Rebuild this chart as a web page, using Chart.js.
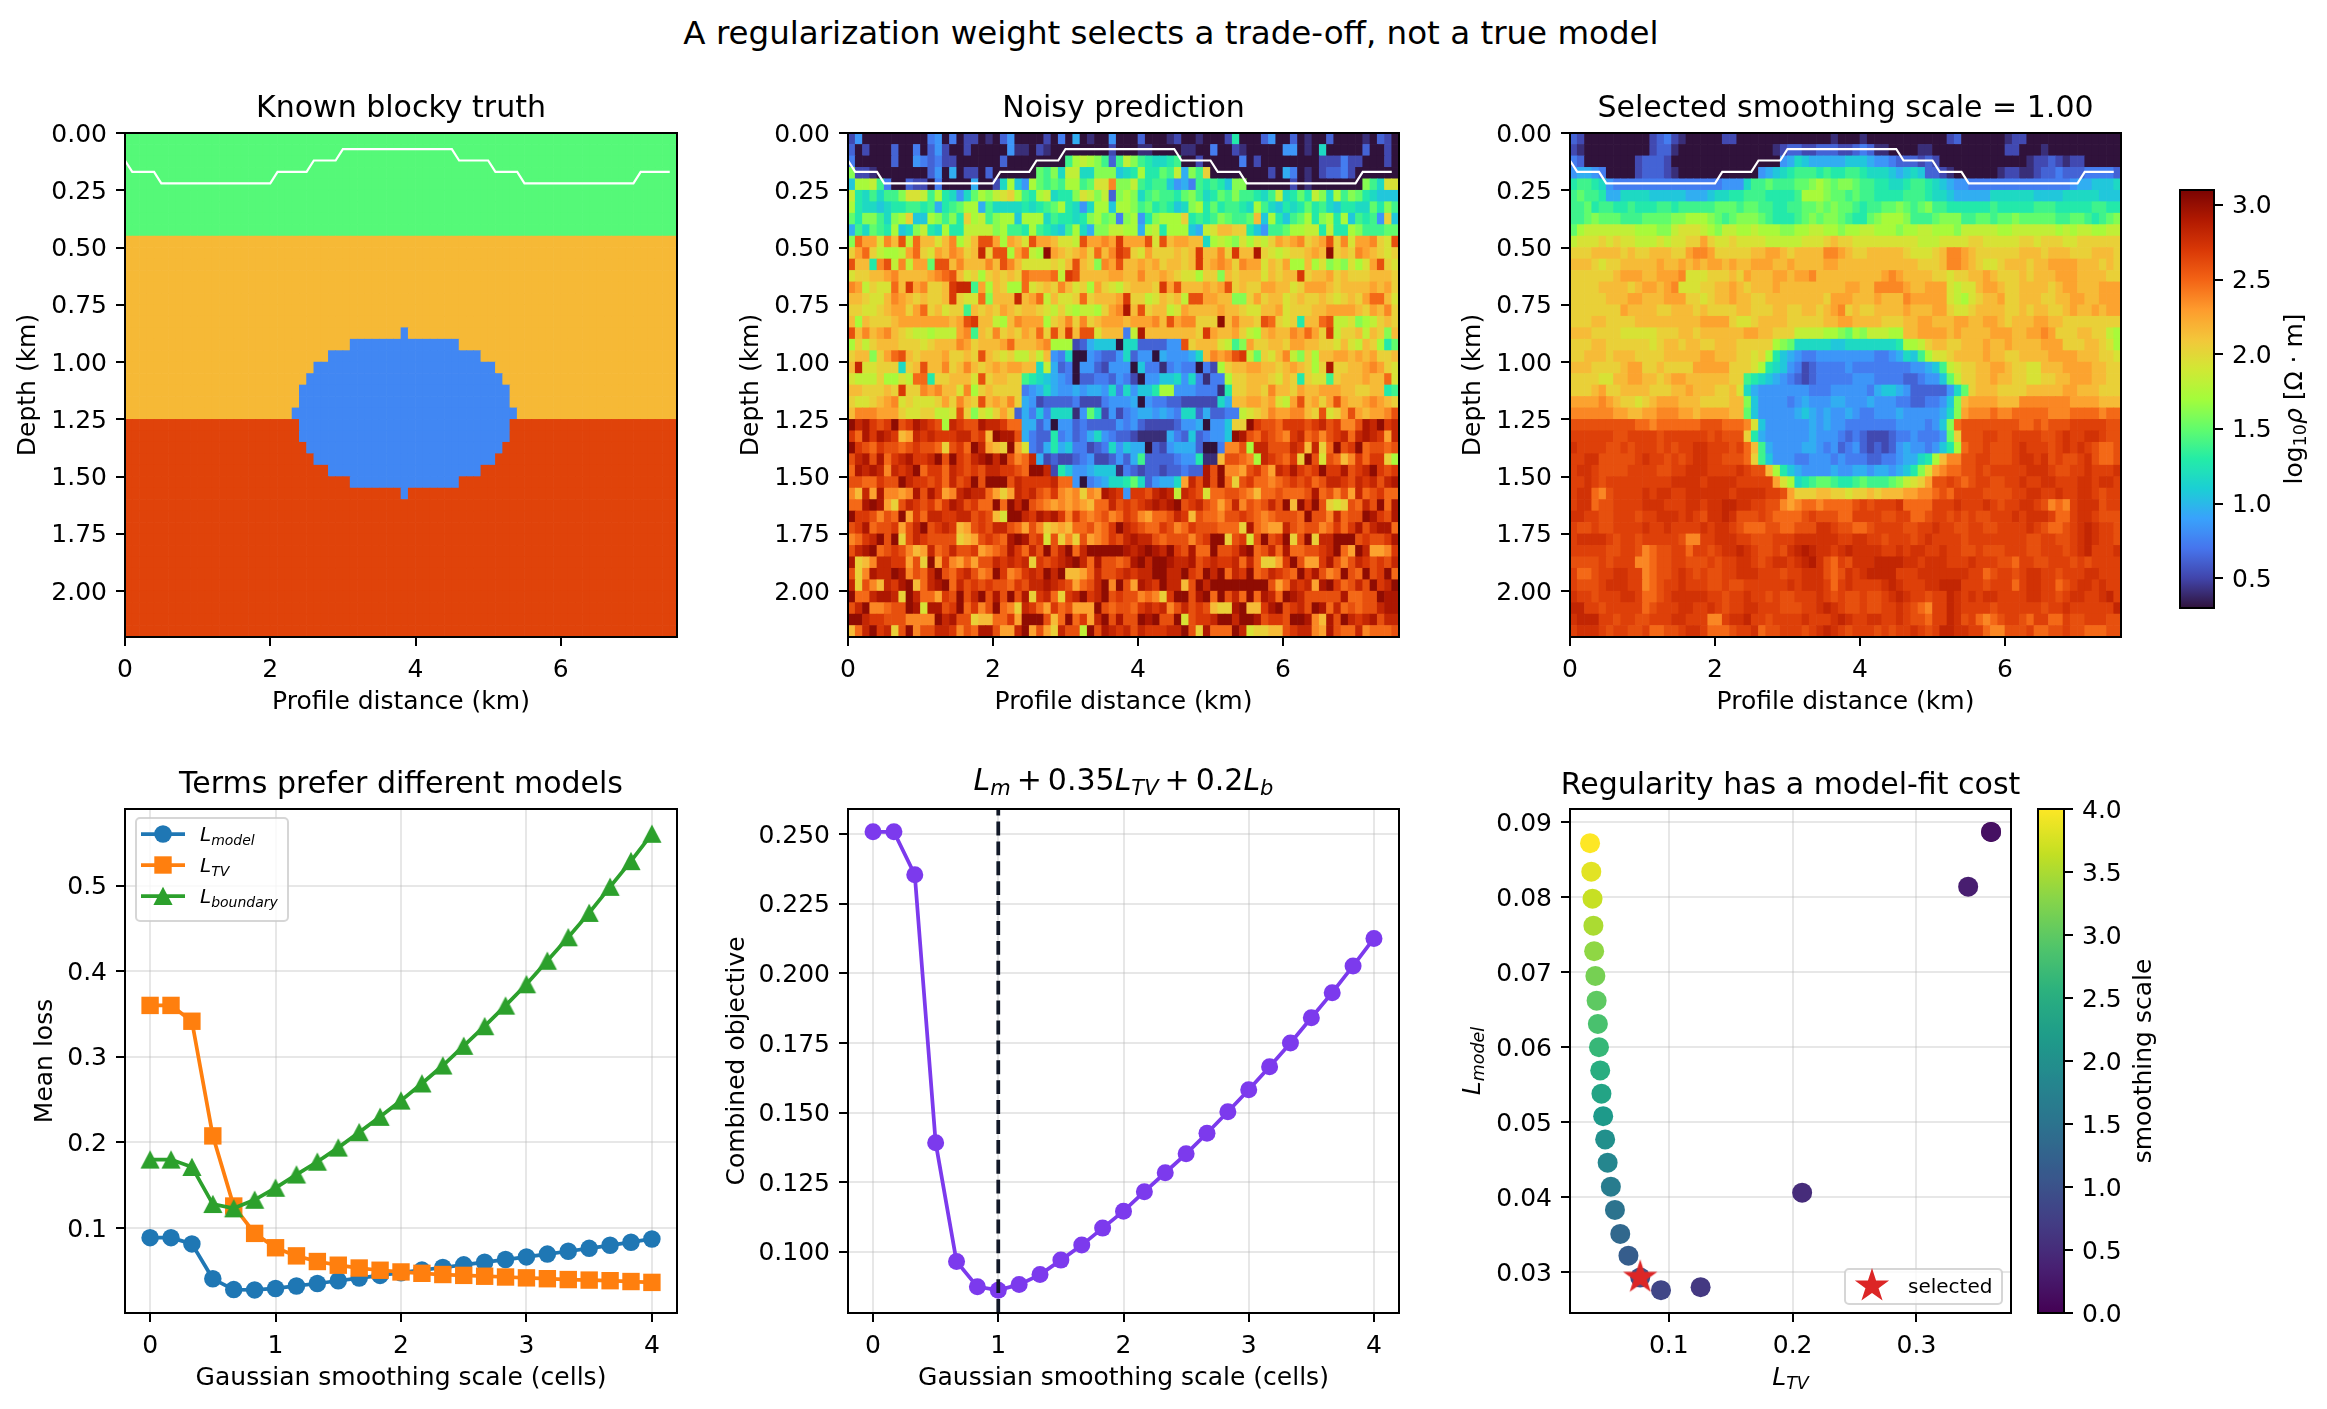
<!DOCTYPE html>
<html><head><meta charset="utf-8"><title>Regularization trade-off</title>
<script src="https://cdn.jsdelivr.net/npm/chart.js@4"></script>
<style>html,body{margin:0;padding:0;background:#fff;width:2327px;height:1409px;overflow:hidden}
canvas{position:absolute}
#sup{position:absolute;left:0;width:2342px;top:14px;text-align:center;font:32.5px "DejaVu Sans";color:#000;line-height:38px}</style>
</head><body><div id="sup">A regularization weight selects a trade-off, not a true model</div>
<script>
// ---- values ----
const sigma=[0,0.1667,0.3333,0.5,0.6667,0.8333,1,1.1667,1.3333,1.5,1.6667,1.8333,2,2.1667,2.3333,2.5,2.6667,2.8333,3,3.1667,3.3333,3.5,3.6667,3.8333,4];
const lossModel=[.0887,.0887,.0814,.0406,.0280,.0276,.0293,.0322,.0351,.0383,.0414,.0446,.0477,.0508,.0538,.0569,.0600,.0631,.0662,.0695,.0728,.0762,.0798,.0834,.0872];
const lossTV=[.3603,.3603,.3418,.2077,.1257,.0937,.0769,.0674,.0608,.0565,.0532,.0506,.0486,.0470,.0456,.0446,.0436,.0427,.0417,.0407,.0397,.0391,.0384,.0374,.0364];
const lossBoundary=[.180,.180,.1714,.128,.123,.133,.147,.1625,.1775,.194,.212,.230,.249,.269,.290,.313,.336,.360,.385,.4125,.440,.4685,.499,.529,.561];
const objective=[.2509,.2509,.2355,.1392,.0965,.0874,.0862,.0882,.0918,.0970,.1024,.1085,.1146,.1216,.1284,.1352,.1426,.1503,.1582,.1665,.1750,.1841,.1931,.2027,.2126];
const selectedScale=1, selectedIndex=6;
const boundaryX=[0,.1,.4,.5,2,2.1,2.5,2.6,2.9,3,4.5,4.6,5,5.1,5.4,5.5,7,7.1,7.5];
const boundaryZ=[.12,.17,.17,.22,.22,.17,.17,.12,.12,.07,.07,.12,.12,.17,.17,.22,.22,.17,.17];
const truthLayerValues=[1.46,2.16,2.65], truthLayerEnds=[9,25,44], truthBlobValue=0.78;
const blobRows =[17,18,19,20,21,22,23,24,25,26,27,28,29,30,31];
const blobFirst=[38,31,28,26,25,24,24,23,24,24,25,26,28,31,38];
const blobLast =[38,45,48,50,51,52,52,53,52,52,51,50,48,45,38];
// one letter per cell: each letter is one level of log10 rho, a = 0.30 upward
const levelStep=0.109, levelBase=0.3, smoothHighStep=0.075;
const noisyRows=[
"cfaaaaaaaa aefaeaccab adfaaaacae agabaafaaa daaabcaaba aacjaaadfa adabaadaaa abadca",
"dacaaadaae adfcaacaaa aafbbacbaa aaaaaacaaa bbaaaabbaa eaacbaaaaa ffabaiaaaa adaaca",
"eaaaaadaaf edeccaaaaa adaaaaaaaa knonmkdkom kjiijkaaca aaaaeacaaa aaaaacccec caaaca",
"mccbaaaaaa adfagaccad aaaaaalkmi ooiimmmhij njjlkogmkq aaaaaaaaca geabacddec aaaaaa",
"hnnokeaadc caeaaaagaa cinhfnlklk nnklpptmmo kjkkhfgekj kjhmmaaaaa acabaaaaaa amkipp",
"ojikikkmpp oknjifilnm opqnkjnoij jmpomodmnm iklkkjlmki jlkmkkjiko ijljominkm ljihhh",
"njiihijjkk jkgjklnngk iiiijijkln jifinnhnnm kljkjhimnj ljkkjinkih jijljkihjj iiljmk",
"ljmmkimnqh hnmkmjqnok mnnhnnnikj jijmnlmemn fjmnnnqjkj kmlkklrhnj hklnjmnjnh kjkfqh",
"gkilkjnhim ojinjjoooo mnkkjnkjih knigmmoonn gnojnnnhgo prrqqjhfkk lnnoojojjn mkkkll",
"mussptrvou rrprtnprvv snsrpvssrp povsstswss svpvrssrri nonmpnpoqs rstqrsvqtp sstqpv",
"qsuqonnosu qpsrtsqrxq vvnsuonzsr qrsqurtwvq psqqqrqrwr rtqwrryqpo pqqrsrzqrq tsrqpq",
"vrrjtvotos slvvrtrrrt rvtrppppqp rvrqmtsvrr srsqrrqrwr stsqtssprq snnrnpmnmp npsvqp",
"pqqrrstrrr rstuvrpqnq rqrqutttuo wvrrrrssrr trrsrqppnq qmrqrrrprq rrwqrrsqrq qqrrrq",
"tsoqppurws tqqrwxxksn rqnnupqrqt rpqnsqpoqr rrqwsvrrrs rsvqrqqssr rpqsssrqrr rrsrsq",
"rrqpprtsrq rqqrwqppum rrrxrsuorp pquqrrrswq qoprqrovvs srrmmqsqrr pqrqqrqpqr qsuurp",
"qqppqrssqs uqrpqqkrqr qsrqrrqpoq onoonqstyr vqrropsrrr rsrrqpprrs pqqqrrssss rqsrtq",
"rnrqqqrsss ssssrsvwrr onrtsssnqr tqtqrsssrs sstrvsttqq qzrtrrqvuq pqjrruvoop mnoqrq",
"vrtrstrqpo onooostkrq tqrqsruqvr wrvvprrreo yrrrrrrrqw srrsqonrsr rtsusqwoqq rorqmr",
"nqoqrrrqqq pqrrrtsqrr rsurrrstnn ncdghhhaii ddddffvqrr rpokmsqqrr qssrrqqprp orqnjl",
"qrrmqsuvrq rrrsqqrqvr qpqooqorfe iaafeddfid ffagfffgir tstvwolqpr tomqnrrssr srsqqr",
"rxppqqqiqr vrrtqrtrqr srssrriogd eaffdcfffa heebefeeae cnqrrssrrq rsrqnqyqqr rstsqp",
"poooqnnpou ujqqrrrpvq rrqqkjihgf eaddeedfec affhhifieb eenqqrrrqp rqjqppkqrr rsrrup",
"rrqqqrqwqq tstrrptnqr qqqqefgigf fgfggfieif hhjnnfffee ebjqqrrqtr rqsrrsssrr qqrrjk",
"qppqrstpqp ppqsqtrqvr srtqgfcddd decccefffg afeeddcccc cigrrssrsp osvrsqsvsr rstsrq",
"rtttsssqpp qqoopvqmpo qsqdgeheii ibflicfcef ggfgfeiidg ddeeopqrts sttrqvpqsv srsstv",
"zxywvwzvwy xwvnxwvvyx xwuuggdfaf fdeddddfef dccccdffga ffhqqzwvvu wwwvwxvwtt vyxzwx",
"wuywyxwrsx wxwwwxxvwr zyyvgeddje fdegifeddc bbbbgedhde ffhzyvuwvu twxuvtvwxu xyxwsx",
"zwvuwvvuvw vvuqvwuzxs rqzspedgjg heecdeifhg gadcfgggda aettvnxxvv vxwrxquzvw zuvvuv",
"vxyvyuwxyw wxzvzwvxyz xzvtuxgcdc cdefccdfdg kddddeffjb brvvutnxwv uwqzvpvurt wuwwqn",
"uyxyxtxwxz uwwuxwvwvx xwwvuzzxcj hffghhhbed cddcddeddy vzttsvwusx wywvwzwwyv wxzwvw",
"vvuuwvvzxw wvwuxvwzvz zzvxwwwwxu ufaefgiijl idfggisxvy vzuqvwuutu vwvwuvxxwv xwxvxy",
"trxsyttsty vywstxyxxu sqsxwxvuwt stqtsyxwfw wvxyxoxwvp uuvvutruuv uuuvyuvtvs xuvwuu",
"uuyzysqvxw vwuwyxvwuu zuzxzvutst stsruuxvwv wxyxyzvwxv usuxtvuvxv zrzwzvqpqv uxvzuy",
"zwwvtvuzsw uxxwwxxvwv rpzzxwyxyw twutuvtuwv tsuuvxwrvu utvvwvutuv vvuzvvtxuv vzywvy",
"vwyuvvwsvx zvwxwrsvwv xxvusvtqrs ruuvtuwzxw vuuwvtuwvv vuuuqyutss xvuvvtuwuw yvxyyu",
"tuwxzvzqvx wvvvvqrsvw vuyzyvwpvq tqvstuwvxy xxvuvvvtvw zzqvwpvzvw zqvzqxxzzz vwvvwy",
"vxyzuvwvtr sxuvxvvwst uvywuxvzvx zuxzzzzzyx yzyxzwvyuu zvvwyzuvxu yuuvvwxzus zxsstw",
"yqrtxxwwsv qzswtsusvv xwxwxqwvwx yzxuyvvuvy zxzzyxxyvw xwwxuxuqqs wzvsswyvtv xwvwvx",
"vqtyxxzytv uxzvuwxvtu zwtuwxwzxz rrsuxvvwxw xxzzxxzwvz xzuxwzuvxw vuzwyvtuzv uzvwzu",
"xqvtrxwyzr uxyzuxvwvw vvuwvxxyxw vsuvxztzvs yxwzxxrvzx zzzzzzzzvs uxwxsyzwuv xvzwxz",
"zuuxyyxqzx uuswvzvxzv yvzvyqwxuq wxzwxzvwvv tutqwzzvyz uzvxuzuyxu zyxvvvvvyu uvvzyy",
"vxzttuvvzy pyyvwzuwtv zutqxwuswu vssszvuvvu wxwxtvxvwv rqqyzrrwyz vwxvzyuxuv uvvxyy",
"zzxwwvvvtt ttzxyvvqrr uuwszzzvru zuwsxzvyvv zyzvvzpvww xzzxzzyvww vzzytryvzx wxyvxx",
"ruxzwxqvzt vvxxwtvuyy vssxzsvsqx vvozvyxwxv xwwwxxzvqy uuuzxpqqrr vwxxtsyvuu xtuuuv"];
const smoothRows=[
"dcaaaaaaaa acdecbaaaa accaaaaaaa aaaaaabaaa baaaaaaaaa aacdaaaaaa bccaaaaaaa aaaaaa",
"cbaaaaaaaa acddbaaaaa aaaaaaaabc ddccdddccd edbbaaaabb aaaaaaaaaa ccaaabaaaa aaaaaa",
"edaaaaaaac dddcaaaaaa aaaaaaaaaf gihggggghh hgffedddcd caaaaaaaaa aaabccdcbc caaaaa",
"fggfeaaaac dddcbaaaaa aaaaaafghi jkkkjkjjkk jiiihghihd dcbaaaaaab ccbbcddedd deeeed",
"jkkjifeeee eeeeeeeeee efffikklkk kllmnmlmml kkjjiijkkj ihgffeeeee eeeeeeeeef gghhhi",
"klkkjggiii ihhhhhgggh iijjkkkjjj jknnnmllkl kkjjjjkkkj iihgggggii iiiihhhhii iiihhh",
"kkljkkjjkj jjkkjkkkkk lllkllkkjj kkllmlmllk jkkllmlklm kkjjjjjjkj jjjjkkkjjj jjkkjj",
"kklmlllkkk llllmmnnnm lklmmmlkjj jklmlmmlkj jlmnnnmkkk lmmmkkllkl lmlllllkkl lkjklm",
"lnooooooon nnmmopppon moonnonnnm mnnoonnmnn oonnnmnnoo nnnmooooon noooooonon oonnoo",
"opppqpqppo oopoppqqsq ppqppppooo oopppqrqqp ppppppppoo oppppqqppp ppqqpqqqpp qqqqqq",
"qqqrrrrqrq qrrrqqstts qqqqqrrssr qrrrrttsrq qrrrrrqppp qrttsrqqqq qqrrrqrrrq qqrrrq",
"rrrqpqqrrr rrsrrsrsrs srsrrsssrr srrrrssrrr rrrrrrrrqq qrttsrqppq rrrqrrssss rrrqrq",
"qqqqqqrsss rrssstpppq qqrqsrrrss rsstrrrrrr rrrstsrrrr qqpqqrrsrq qqrqrrrsss rrrrqq",
"qqqqrrrrqr ssrstpppqq rrsrqrrrsr rrrrrrrrss rrttttsrrs sspopprssr qqrrrrqrss rrrsss",
"qqqqqrrrss rrrsssqqpq rrsrrqqrrr rrrrrqsssr rrsrrrtsss ssponpqrrs qqrrrqqrrs srrsss",
"qqqqqqqsrr rrqqrrrqrq qqqrrqqqrr qqrrqrstqr qqrrrrsrrr ssqppqrrrr qqrqrrqqrs rrsrss",
"qqqrrqqqqr rrrrrrrrss ssqppqrrrr qqqqqrrssr rrrqqqrrss rrrssrrssr qrrrssrrqq qqqqqq",
"rrrqqqqppp ppqqqrrqrr rrrrssrrqq qoooonnmln mooonnrrss ssrsrrrrss srrsstsqqq rrqqon",
"qqqrrqqqqq qpqrrqrrqq rrrqqqqqnm liiiiihhii iiiiijnnoq rrqqrrrsrr srrrrsssqq qrrqpn",
"qqrrrqrrrq qqqrrrrrss rrrqqpqnjh gfeeffffff ffeefgihkn ppqrrrrsrr qqrrrrssss rrrqqp",
"rrrqqqqrss qqrqqqqsss ssqqqpnjih fecdeeeefe eeeeeeeffg hkopqqrrss rqqpprrrss ssrrqq",
"qqqqpprrss rrqrssrrrr rrqqkjihgf edcdeeeeef ffeeeeddef fhloqqrrsr rqqppqqrrs ssrrqq",
"qqqrsqqrrr rqqqrrsrrr qqrpigffff fffeeeffff feghhgfddd ddfilqrrrq qqqrrrrrss rrrqqq",
"sssstsrqqp qrsssrrrqq qqrrmhffff efgfffggff fgfffeedde efhmrssssr rrttttttts sssrrr",
"ttttttssrr sstttssrss ssrrlhffff fghgfgffgf eefffgffff fgimstttut tuuuuutttu uuutuu",
"vvvvvvvvvu utuuuuuuvv vuuutphfff fffgfgffee eeeeeffffe fhmuvvvvvv vvuuvuvvvw wwwwvv",
"wwwwwwvvww wwvwwwwwwv wvvvqjgfff fffgfffede dcccdeefee eflqvvvwwv vwwwwvvwxw wxxwvv",
"xwwwwvvwvw wwvwvwwxxw wwvwurkgff ffggfefdef dcdcdfgffe fhjnuvvwvv vwxwwwvwxw xwvuuv",
"wwxxvvvvvw xwwvwvwxxw wvvvuqkhff feefffefee eddeefggij nrttvvwwvv vwxxwxvwvv wxvuuv",
"wxxwvvvvww wwvvwwxxxw wwwxwvvrnj hgffffgffg gfggfghjmp stuuvvwvww wwwxxxwvvw wxwwwx",
"wwxwvwwwww wwwwxxxxwx xxxwwwwwsp nijkllkjjk lkkklmopqs vvwvuvwwvv wwxwwxxwww xxwxxw",
"wxxutvwwww xwxxwwxxxx xxwxxxxwwv sqqqrrqqpq qrqrrrsstt uvuwwwwvvv vwwxxwwxww xxwvww",
"wxxuvvwwww xxxwwwxxwx xyyxxwwvvt stuutuuuuv wvwwwxuuuu wwwxwwwxwv wwxxwvtutw xxxvww",
"xxwwvvwwwv wwxxxwxwvx xyxvvvwvuu uuvwvvvuuw wwwvvwwuuv wwvwvwvvww wxwxxxwuuw xxwvvv",
"wvvwvvwwww xwwxwwwwxw xxwvuuuvvu uvvvxxwvvu uvwwwwvvww xwwvvwwvvw wwwxwvuuvw xyxwwv",
"wxxxxwvwwv wwwwwvttww xxxwwvvvww wxxxxxxwwx xwwvwwwvwx wwwwvwwwww wwwvvwwvvw xyxwwv",
"wwwwwvvwwv tuvvwwuwwv wxxyxwvvwv xyzyxxwxyx xxxwwxwxxw wxwwvvwvvv wwwvvwwwvw xywwwx",
"vvvvwvwwwt tuvvwwvvvw vwwxxwvwxx wxyzxvuwvx xxyyyyxxwx xxwwwxwwwv vuwwvvwwwv wvwwww",
"wuuvwwxxww tuvvwxwvwv vwwxxxwwwv wwxxxvuvxw xyyyywwwxx xxxxxwwuvw wvwxxwwvww wxxwww",
"wvvvwxxxww tuvwwxwwwv vwvvwwwwww xwxxxwuwxw wwwxyxwwwx xyyywwwvww wuwxxwwuvw xxwxww",
"xwwvwwwxxw uuvwxxxxxw wvwwxwwvwv vwwwxwvwvv wvvwxyxwwv wwyxwxwxxw wwwxxwwvwx xwwxyw",
"yywwvwwwww uvwwwxxwwx wvwwxxwwwv vvwwxyxwvv wvvwwxwvut wwyxwwwwvw wwwwwvwwxw wwwwwy",
"xyyywwvwwv vwwwxxwwwt twxxywwvww wwxwwwxyxw wxxwwxwvvu wwyxvwutuv wwvuwwuuwv vwwwvv",
"wxxxwvwwvv wuuvvwxxwu uuvwwxuvvw wwvwxyxwvw wwvwvwwxwv wyyxxwwutt vvvwuuvvwv vuuuvv"];

// ---- helpers ----
const FONT='"DejaVu Sans"', NX=76, NZ=44, DX=0.1, DZ=0.05, VMIN=0.3, VMAX=3.1;
Chart.defaults.font.family=FONT; Chart.defaults.font.size=25; Chart.defaults.color='#000';
Chart.defaults.animation=false; Chart.defaults.devicePixelRatio=1;
const hexRGB=s=>[1,3,5].map(k=>parseInt(s.substr(k,2),16));
function ramp(stops,t){t=Math.max(0,Math.min(1,t))*(stops.length-1);const i=Math.min(stops.length-2,Math.floor(t)),f=t-i,a=hexRGB(stops[i]),b=hexRGB(stops[i+1]);
 return `rgb(${a.map((v,k)=>Math.round(v+(b[k]-v)*f)).join(',')})`;}
const TURBO=['#30123b','#4145ab','#4675ed','#39a2fc','#1bcfd4','#24eca6','#61fc6c','#a4fc3b','#d1e834','#f3c63a','#fe9b2d','#f36315','#d93806','#b11901','#7a0402'];
const VIR=['#440154','#482173','#433e85','#38588c','#2d708e','#25858e','#1e9b8a','#2ab07f','#51c56a','#85d54a','#c2df23','#fde725'];
const turbo=t=>ramp(TURBO,t), viridis=t=>ramp(VIR,t);
const decodeRows=(rows,highStep)=>rows.map(s=>{s=s.replace(/ /g,'');s=s.padEnd(NX,s[s.length-1]).slice(0,NX);
 return Array.from(s,ch=>{const i=ch.charCodeAt(0)-97;return levelBase+Math.min(i,21)*levelStep+Math.max(i-21,0)*(highStep||levelStep);});});
function truthMatrix(){const m=[];for(let r=0;r<NZ;r++){const l=truthLayerEnds.findIndex(e=>r<e);m.push(new Array(NX).fill(truthLayerValues[l]));}
 blobRows.forEach((r,i)=>{for(let c=blobFirst[i];c<=blobLast[i];c++)m[r][c]=truthBlobValue;});return m;}
function drawRich(ctx,runs,x,y,size,rot,align){ctx.save();ctx.translate(x,y);ctx.rotate(rot||0);ctx.textBaseline='alphabetic';ctx.textAlign='left';ctx.fillStyle='#000';
 const fnt=r=>`${r.i?'italic ':''}${r.sub?size*.7:size}px ${FONT}`;let tot=0;runs.forEach(r=>{ctx.font=fnt(r);tot+=ctx.measureText(r.t).width;});
 let cx=align==='left'?0:-tot/2;runs.forEach(r=>{ctx.font=fnt(r);ctx.fillText(r.t,cx,size*.36+(r.sub?size*.17:0));cx+=ctx.measureText(r.t).width;});ctx.restore();}
const framePlugin={id:'frame',afterDraw(ch){const a=ch.chartArea,c=ch.ctx;c.save();c.strokeStyle='#000';c.lineWidth=2;c.strokeRect(a.left,a.top,a.right-a.left,a.bottom-a.top);c.restore();}};
function richPlugin(ox,oy,items){return {id:'rich',afterDraw(ch){items.forEach(it=>drawRich(ch.ctx,it.runs,it.x-ox,it.y-oy,it.size||25,it.rot,it.align));}};}
function makeCanvas(l,t,w,h){const c=document.createElement('canvas');c.width=w;c.height=h;c.style.left=l+'px';c.style.top=t+'px';c.style.width=w+'px';c.style.height=h+'px';document.body.appendChild(c);return c;}
function shapeCanvas(color,pts){const c=document.createElement('canvas');c.width=c.height=40;const g=c.getContext('2d');g.fillStyle=color;g.beginPath();pts.forEach(p=>g.lineTo(20+p[0],20+p[1]));g.closePath();g.fill();return c;}
const starCanvas=shapeCanvas('#dc2626',Array.from({length:10},(_,i)=>{const r=i%2?6.9:18,a=-Math.PI/2+i*Math.PI/5;return [r*Math.cos(a),r*Math.sin(a)];}));
const triCanvas=shapeCanvas('#2ca02c',[[0,-9.2],[9.6,9],[-9.6,9]]);
const Y_NUDGE=4; // matplotlib centres tick labels slightly lower than canvas 'middle'
function axis(o){const isY=o.fitW!==undefined;return Object.assign({type:'linear',offset:false,border:{display:false},
 grid:{offset:false,drawOnChartArea:!!o.grid,drawTicks:true,tickLength:9,tickWidth:2,tickColor:'#000',color:'rgba(176,176,176,0.3)',lineWidth:2},
 afterFit(s){if(o.fitW!==undefined)s.width=o.fitW;if(o.fitH!==undefined)s.height=o.fitH;},
 ticks:{color:'#000',padding:9,maxRotation:0,minRotation:0,autoSkip:false,includeBounds:false,
   font:isY?{size:25,lineHeight:Y_NUDGE/25}:{size:25},stepSize:o.step,
   callback:v=>{const t=o.fmt?o.fmt(v):v;return isY?['',t]:t;}},
 title:o.label?{display:true,text:o.label,font:{size:25},padding:0,color:'#000'}:{display:false}},
 {min:o.min,max:o.max,reverse:!!o.rev});}
function titleOpt(t){return t?{display:true,text:t,fullSize:false,font:{size:30,weight:'normal'},color:'#000',padding:{top:0,bottom:6}}:{display:false};}

const TH=42, BH=80;
function heat(L,R,T,B,titleText,matrix){const mL=112,bH=BH,rP=20,W=R-L,H=B-T;
 const cv=makeCanvas(L-mL,T-TH,mL+W+rP,TH+H+bH);
 const cells=[],cols=[];matrix.forEach((row,r)=>row.forEach((v,c)=>{cells.push({x:(c+.5)*DX,y:[r*DZ,(r+1)*DZ]});cols.push(turbo((v-VMIN)/(VMAX-VMIN)));}));
 new Chart(cv,{type:'bar',data:{datasets:[
  {type:'line',data:boundaryX.map((x,i)=>({x,y:boundaryZ[i]})),borderColor:'#fff',borderWidth:2.2,pointRadius:0,tension:0,order:1,clip:false},
  {type:'bar',data:cells,backgroundColor:cols,borderWidth:0,grouped:false,barPercentage:1,categoryPercentage:1,order:2}]},
 plugins:[framePlugin],options:{responsive:false,events:[],layout:{padding:{top:0,right:rP,bottom:0,left:0}},
  plugins:{legend:{display:false},tooltip:{enabled:false},title:titleOpt(titleText)},
  scales:{x:axis({min:0,max:7.6,step:2,fitH:bH,label:'Profile distance (km)'}),
   y:axis({min:0,max:2.2,step:.25,rev:true,fitW:mL,label:'Depth (km)',fmt:v=>v.toFixed(2)})}}});}
const ROW1={T:133,B:637}, ROW2={T:809,B:1313};
heat(125,677,ROW1.T,ROW1.B,'Known blocky truth',truthMatrix());
heat(848,1399,ROW1.T,ROW1.B,'Noisy prediction',decodeRows(noisyRows));
heat(1570,2121,ROW1.T,ROW1.B,'Selected smoothing scale = 1.00',decodeRows(smoothRows,smoothHighStep));

// colour bars
function colorbar(L,R,T,B,min,max,step,colorFn,items,cw){const pad=6,m=30,cv=makeCanvas(L-pad,T-m,cw+pad,B-T+2*m),barW=R-L,fit=cw-barW;
 new Chart(cv,{type:'bar',data:{datasets:[{data:[{x:0,y:[min,max]}],barPercentage:1,categoryPercentage:1,grouped:false,borderWidth:0,inflateAmount:0,
   backgroundColor:c=>{const ch=c.chart,a=ch.chartArea;if(!a)return '#000';const g=ch.ctx.createLinearGradient(0,a.bottom,0,a.top);for(let i=0;i<=56;i++)g.addColorStop(i/56,colorFn(i/56));return g;}}]},
  plugins:[framePlugin,richPlugin(L-pad,T-m,items)],
  options:{responsive:false,events:[],layout:{padding:{top:m,bottom:m,left:pad,right:0}},plugins:{legend:{display:false},tooltip:{enabled:false}},
  scales:{x:{type:'linear',min:-.5,max:.5,display:false,offset:false},y:Object.assign(axis({min,max,step,fitW:fit,fmt:v=>v.toFixed(1)}),{position:'right'})}}});}
colorbar(2180,2214,190,608,VMIN,VMAX,.5,turbo,[{runs:[{t:'log'},{t:'10',sub:1},{t:'ρ',i:1},{t:' [Ω · m]'}],x:2293,y:399,rot:-Math.PI/2}],147);
colorbar(2038,2064,ROW2.T,ROW2.B,0,4,.5,viridis,[{runs:[{t:'smoothing scale'}],x:2142,y:1061,rot:-Math.PI/2}],125);

// bottom-left: loss terms with a legend drawn on the plot
const legendPlugin={id:'lossLegend',afterDraw(ch){const c=ch.ctx,ox=30,oy=809-TH;c.save();
 c.fillStyle='rgba(255,255,255,.8)';c.strokeStyle='rgba(204,204,204,.8)';c.lineWidth=2;c.beginPath();c.roundRect(136-ox,818-oy,152,103,4);c.fill();c.stroke();
 [[834,'#1f77b4','circle','model'],[865,'#ff7f0e','rect','TV'],[896,'#2ca02c',triCanvas,'boundary']].forEach(([y,col,st,sub])=>{
  c.strokeStyle=col;c.lineWidth=3.75;c.beginPath();c.moveTo(141-ox,y-oy);c.lineTo(185-ox,y-oy);c.stroke();
  c.fillStyle=col;c.strokeStyle=col;Chart.helpers.drawPoint(c,{pointStyle:st,radius:st==='circle'?8.75:12.3,borderWidth:0,rotation:0},163-ox,y-oy);
  drawRich(c,[{t:'L',i:1},{t:sub,i:1,sub:1}],200-ox,y-oy,20,0,'left');});c.restore();}};
const lineSet=(label,vals,col,st,r,order)=>({label,data:sigma.map((x,i)=>({x,y:vals[i]})),showLine:true,borderColor:col,backgroundColor:col,borderWidth:3.75,pointStyle:st,pointRadius:r,pointBorderWidth:0,pointBackgroundColor:col,tension:0,order});
{const mL=95,bH=BH,rP=20,W=552,H=ROW2.B-ROW2.T;
 new Chart(makeCanvas(125-mL,ROW2.T-TH,mL+W+rP,TH+H+bH),{type:'scatter',data:{datasets:[
  lineSet('L_model',lossModel,'#1f77b4','circle',8.75,3),lineSet('L_TV',lossTV,'#ff7f0e','rect',12.3,2),lineSet('L_boundary',lossBoundary,'#2ca02c',triCanvas,10.5,1)]},
 plugins:[framePlugin,legendPlugin],options:{responsive:false,events:[],layout:{padding:{right:rP}},plugins:{legend:{display:false},tooltip:{enabled:false},title:titleOpt('Terms prefer different models')},
 scales:{x:axis({min:-.2,max:4.2,step:1,grid:1,fitH:bH,label:'Gaussian smoothing scale (cells)'}),y:axis({min:.0006,max:.59,step:.1,grid:1,fitW:mL,label:'Mean loss',fmt:v=>v.toFixed(1)})}}});}

// bottom-middle: combined objective
{const mL=126,bH=BH,rP=20,L=848,W=551,H=ROW2.B-ROW2.T,oy=ROW2.T-TH,ox=L-mL,yMin=.0780,yMax=.2591;
 const sel=lineSet('objective',objective,'#7c3aed','circle',8.5,2);
 new Chart(makeCanvas(ox,oy,mL+W+rP,TH+H+bH),{type:'scatter',data:{datasets:[sel,
  {label:'selected scale',data:[{x:selectedScale,y:yMin},{x:selectedScale,y:yMax}],showLine:true,borderColor:'#111827',borderWidth:3.75,borderDash:[13.9,6],pointRadius:0,order:1}]},
 plugins:[framePlugin,richPlugin(ox,oy,[{runs:[{t:'L',i:1},{t:'m',i:1,sub:1},{t:'\u2009+\u20090.35'},{t:'L',i:1},{t:'TV',i:1,sub:1},{t:'\u2009+\u20090.2'},{t:'L',i:1},{t:'b',i:1,sub:1}],x:L+W/2,y:ROW2.T-30,size:30}])],
 options:{responsive:false,events:[],layout:{padding:{top:TH,right:rP}},plugins:{legend:{display:false},tooltip:{enabled:false}},
 scales:{x:axis({min:-.2,max:4.2,step:1,grid:1,fitH:bH,label:'Gaussian smoothing scale (cells)'}),y:axis({min:yMin,max:yMax,step:.025,grid:1,fitW:mL,label:'Combined objective',fmt:v=>v.toFixed(3)})}}});}

// bottom-right: trade-off scatter
{const mL=125,bH=BH,rP=60,L=1570,W=441,H=ROW2.B-ROW2.T,ox=L-mL,oy=ROW2.T-TH;
 const legend={id:'selLegend',afterDraw(ch){const c=ch.ctx;c.save();c.fillStyle='rgba(255,255,255,.8)';c.strokeStyle='rgba(204,204,204,.8)';c.lineWidth=2;c.beginPath();c.roundRect(1845-ox,1269-oy,157,35,4);c.fill();c.stroke();
   c.drawImage(starCanvas,1872-20-ox,1286-20-oy);c.restore();drawRich(c,[{t:'selected'}],1908-ox,1286-oy,20,0,'left');}};
 new Chart(makeCanvas(ox,oy,mL+W+rP,TH+H+bH),{type:'scatter',data:{datasets:[
  {label:'scales',data:sigma.map((s,i)=>({x:lossTV[i],y:lossModel[i]})),pointRadius:10,pointBorderWidth:0,pointBackgroundColor:sigma.map(s=>viridis(s/4)),order:2},
  {label:'selected',data:[{x:lossTV[selectedIndex],y:lossModel[selectedIndex]}],pointStyle:starCanvas,pointRadius:18,order:1}]},
 plugins:[framePlugin,legend,richPlugin(ox,oy,[{runs:[{t:'Regularity has a model-fit cost'}],x:L+W/2,y:ROW2.T-26,size:30},{runs:[{t:'L',i:1},{t:'model',i:1,sub:1}],x:1471,y:ROW2.T+H/2,rot:-Math.PI/2},{runs:[{t:'L',i:1},{t:'TV',i:1,sub:1}],x:L+W/2,y:1376}])],
 options:{responsive:false,events:[],layout:{padding:{top:TH,right:rP}},plugins:{legend:{display:false},tooltip:{enabled:false}},
 scales:{x:axis({min:.0202,max:.3764,step:.1,grid:1,fitH:bH,fmt:v=>v.toFixed(1)}),y:axis({min:.02455,max:.09175,step:.01,grid:1,fitW:mL,fmt:v=>v.toFixed(2)})}}});}
</script></body></html>
